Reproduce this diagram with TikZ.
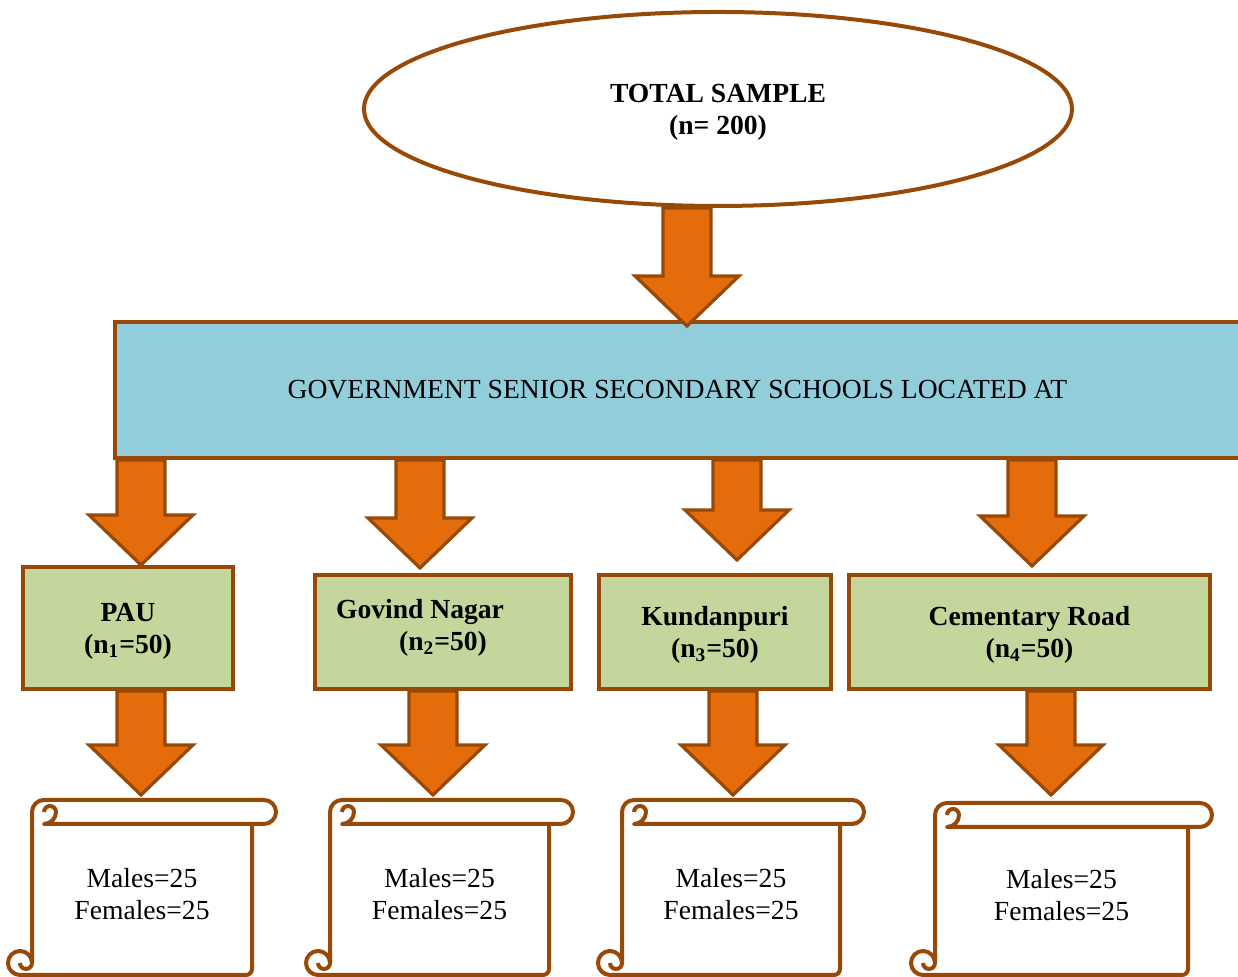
\documentclass[tikz,border=0pt]{standalone}
\usepackage{fontspec}
\setmainfont{Liberation Serif}
\usetikzlibrary{shapes}
\usetikzlibrary{calc}
\definecolor{rust}{HTML}{984807}
\definecolor{orng}{HTML}{E46C0A}
\definecolor{aqua}{HTML}{92CDDC}
\definecolor{olive}{HTML}{C3D69B}
\newcommand{\basefont}{\fontsize{13.8}{16}\selectfont}
\tikzstyle{total}=[ellipse,draw=rust,line width=2pt,fill=white,inner sep=0pt,
        minimum width=354pt,minimum height=97pt,align=center,font=\basefont\bfseries,
        text depth=-1pt]
\tikzstyle{school}=[rectangle,draw=rust,line width=2pt,fill=aqua,minimum height=68pt,font=\basefont]
\tikzstyle{site}=[rectangle,draw=rust,line width=2pt,fill=olive,minimum height=57pt,
        align=center,font=\basefont\bfseries,text depth=-2pt]
\tikzstyle{gender}=[rectangle,inner sep=0pt,outer sep=0pt,align=center,font=\basefont,text depth=-1pt]
\tikzstyle{bigarr}=[draw=rust,line width=1.6pt,fill=orng,line join=miter]
\tikzstyle{roll}=[draw=rust,line width=2pt,line join=round]
% block arrow: [tip gap]{x}{from}{to}
\newcommand{\bigarrow}[4][0pt]{%
  \draw[bigarr] let \p1=(#2,0 |- #3), \p2=(#2,0 |- #4) in
  (\x1-12pt,\y1) -- (\x1-12pt,\y2+#1+25pt) -- (\x1-26pt,\y2+#1+25pt) -- (\x1,\y2+#1)
  -- (\x1+26pt,\y2+#1+25pt) -- (\x1+12pt,\y2+#1+25pt) -- (\x1+12pt,\y1) -- cycle;}
% scroll outline round a node
\newcommand{\scrollframe}[1]{%
  \draw[roll] let \p1=(#1.south west), \p2=(#1.north east) in
  (\x1,\y1+6pt) -- (\x1,\y2) arc[start angle=180,end angle=90,radius=6pt]
  -- (\x2+6pt,\y2+6pt) arc[start angle=90,end angle=-90,radius=6pt]
  -- (\x1+6pt,\y2-6pt) arc[start angle=-90,end angle=0,radius=6pt]
  arc[start angle=0,end angle=180,radius=3pt]
  (\x2,\y2-6pt) -- (\x2,\y1+3pt) arc[start angle=0,end angle=-90,radius=3pt]
  -- (\x1-6pt,\y1) arc[start angle=270,end angle=0,radius=6pt]
  arc[start angle=0,end angle=-180,radius=3pt];}

\begin{document}
\begin{tikzpicture}[x=0.5pt,y=0.5pt]
\useasboundingbox (0,0) rectangle (1238,977);
\clip (0,0) rectangle (1238,977);
\node[total] (total) at (718,868) {TOTAL SAMPLE\\(n= 200)};
\node[school,minimum width=562.5pt] (govt) at (677.5,587) {GOVERNMENT SENIOR SECONDARY SCHOOLS LOCATED AT};
\node[site,minimum width=105pt,minimum height=61pt,text depth=0pt] (pau) at (128,349) {PAU\\(n\textsubscript{1}=50)};
\node[site,minimum width=128pt,text depth=7pt] (govind) at (443,345) {Govind Nagar\rule{23pt}{0pt}\\(n\textsubscript{2}=50)};
\node[site,minimum width=116pt] (kundan) at (715,345) {Kundanpuri\\(n\textsubscript{3}=50)};
\node[site,minimum width=180.5pt] (cement) at (1029.5,345) {Cementary Road\\(n\textsubscript{4}=50)};
\node[gender,minimum width=110pt,minimum height=81.5pt] (g1) at (142,83.5) {Males=25\\Females=25};
\node[gender,minimum width=109.5pt,minimum height=81.5pt] (g2) at (439.5,83.5) {Males=25\\Females=25};
\node[gender,minimum width=109pt,minimum height=81.5pt] (g3) at (731,83.5) {Males=25\\Females=25};
\node[gender,minimum width=126.5pt,minimum height=80pt] (g4) at (1061.5,82) {Males=25\\Females=25};
%scrolls
\scrollframe{g1}
\scrollframe{g2}
\scrollframe{g3}
\scrollframe{g4}
%arrows
\bigarrow[-3pt]{687}{total.south}{govt.north}
\bigarrow{141}{govt.south}{pau.north}
\bigarrow[2.5pt]{420}{govt.south}{govind.north}
\bigarrow[6.5pt]{737}{govt.south}{kundan.north}
\bigarrow[3.5pt]{1032}{govt.south}{cement.north}
\bigarrow[8.5pt]{141}{pau.south}{g1.north}
\bigarrow[8.5pt]{433}{govind.south}{g2.north}
\bigarrow[8.5pt]{733}{kundan.south}{g3.north}
\bigarrow[10pt]{1051}{cement.south}{g4.north}
\end{tikzpicture}
\end{document}
